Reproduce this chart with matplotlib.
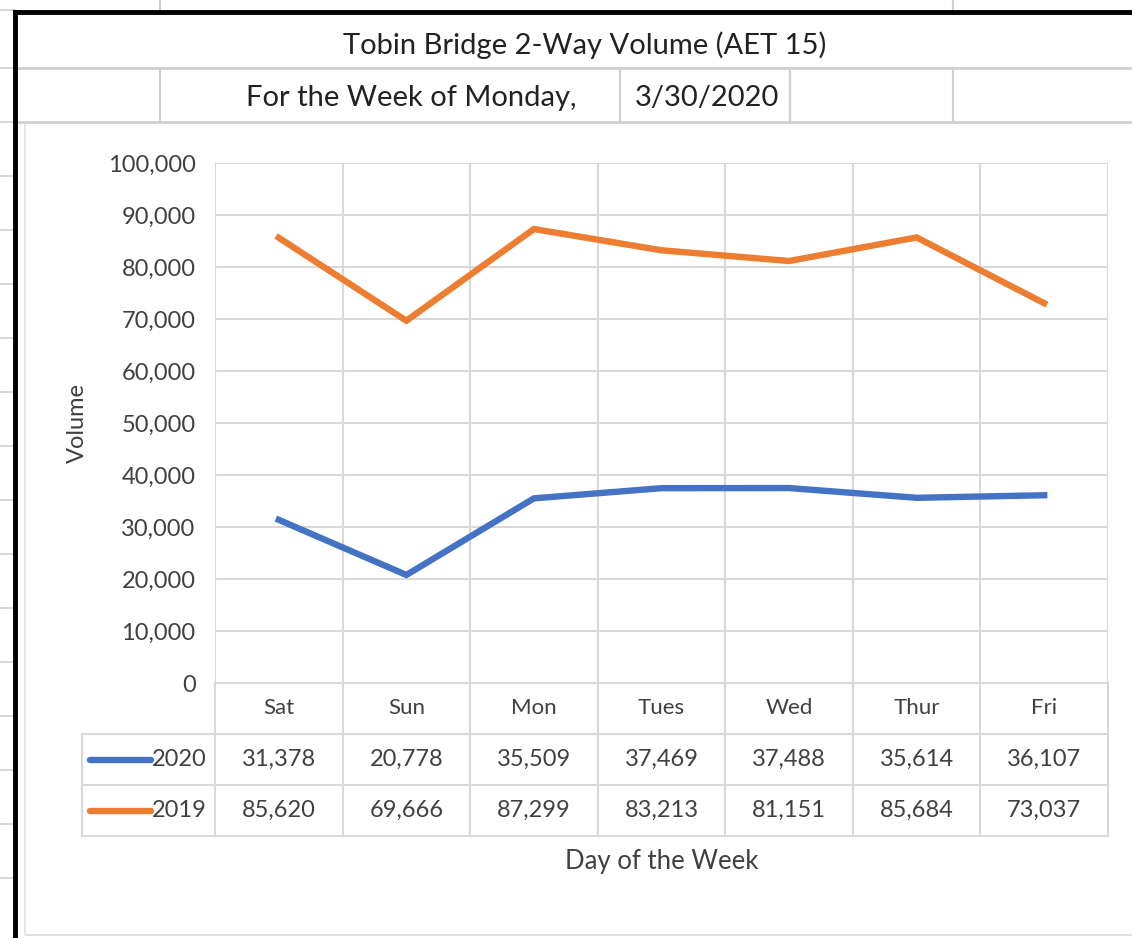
import matplotlib.pyplot as plt
from matplotlib.lines import Line2D

plt.rcParams['font.family'] = ['Lato', 'DejaVu Sans']

days = ["Sat", "Sun", "Mon", "Tues", "Wed", "Thur", "Fri"]
vol_2020 = [31378, 20778, 35509, 37469, 37488, 35614, 36107]
vol_2019 = [85620, 69666, 87299, 83213, 81151, 85684, 73037]
series_names = ["2020", "2019"]
yticks = [0, 10000, 20000, 30000, 40000, 50000, 60000, 70000, 80000, 90000, 100000]

title = "Tobin Bridge 2-Way Volume (AET 15)"
subtitle = "For the Week of Monday,"
week_date = "3/30/2020"

W, H = 1132, 938
txt = "#404040"
grid = "#d9d9d9"
sheet = "#d0d0d0"
blue = "#4472C4"
orange = "#ED7D31"

fig = plt.figure(figsize=(W / 100, H / 100), dpi=100)


def fx(x):
    return x / W


def fy(y):
    return 1 - y / H


def fig_line(x0, y0, x1, y1, color=sheet, lw=1.5):
    fig.add_artist(Line2D([fx(x0), fx(x1)], [fy(y0), fy(y1)], color=color, lw=lw,
                          transform=fig.transFigure))


# spreadsheet cell lines around the chart
for yy in [68, 122]:
    fig_line(15, yy, W, yy, lw=2)
for xx in [160, 953]:
    fig_line(xx, 68, xx, 122)
    fig_line(xx, 0, xx, 12)
for xx in [620, 790]:
    fig_line(xx, 68, xx, 122)
for yy in [10, 68, 122, 176, 230, 284, 338, 392, 446, 500, 554, 608, 662, 716, 770, 824, 878]:
    fig_line(0, yy, 15, yy, lw=1.2)
fig_line(25, 935, W, 935, color="#e0e0e0")
fig_line(25, 125, 25, 935, color="#e6e6e6")

# thick black border
fig_line(15, 12, W, 12, color="black", lw=3.5)
fig_line(15, 12, 15, H, color="black", lw=3.5)

fig.text(fx(585), fy(45), title, ha="center", va="center", fontsize=21, color="#222222")
fig.text(fx(411), fy(98), subtitle, ha="center", va="center", fontsize=21, color="#222222")
fig.text(fx(707), fy(98), week_date, ha="center", va="center", fontsize=21, color="#222222")

ax = fig.add_axes([fx(215), fy(683), (1108 - 215) / W, 520 / H])
x = list(range(len(days)))
ax.plot(x, vol_2020, color=blue, lw=4.6, solid_joinstyle="miter", zorder=3)
ax.plot(x, vol_2019, color=orange, lw=4.6, solid_joinstyle="miter", zorder=3)

ax.set_xlim(-0.5, len(days) - 0.5)
ax.set_ylim(0, 100000)
ax.set_yticks(yticks)
ax.set_yticklabels([f"{v:,}" for v in yticks], fontsize=17, color=txt)
ax.set_xticks([])
ax.tick_params(axis="y", length=0, pad=14)
ax.yaxis.grid(True, color=grid, lw=1.5)
for b in range(len(days) + 1):
    ax.axvline(b - 0.5, color=grid, lw=1.5, zorder=1)
for s in ax.spines.values():
    s.set_visible(False)
ax.set_ylabel("Volume", fontsize=17, color=txt, labelpad=14)

# data table under the plot
row_h = 51 / 520
band = 893 / 7
tr = ax.get_xaxis_transform()
left_x = -0.5 - (215 - 82) / band
for i, d in enumerate(days):
    ax.text(i, -row_h / 2, d, transform=tr, ha="center", va="center", fontsize=16, color=txt)
    ax.text(i, -1.5 * row_h, f"{vol_2020[i]:,}", transform=tr, ha="center", va="center",
            fontsize=17, color=txt)
    ax.text(i, -2.5 * row_h, f"{vol_2019[i]:,}", transform=tr, ha="center", va="center",
            fontsize=17, color=txt)
for b in range(len(days) + 1):
    ax.plot([b - 0.5, b - 0.5], [0, -3 * row_h], transform=tr, color=grid, lw=1.5, clip_on=False)
ax.plot([left_x, left_x], [-row_h, -3 * row_h], transform=tr, color=grid, lw=1.5, clip_on=False)
for k in [1, 2, 3]:
    ax.plot([left_x, 6.5], [-k * row_h, -k * row_h], transform=tr, color=grid, lw=1.5, clip_on=False)
ax.plot([-0.5, 6.5], [0, 0], transform=tr, color=grid, lw=1.5, clip_on=False)

sw0 = -0.5 - (215 - 90) / band
sw1 = -0.5 - (215 - 151) / band
for k, (name, col) in enumerate(zip(series_names, [blue, orange])):
    yy = -(k + 1.5) * row_h
    ax.plot([sw0, sw1], [yy, yy], transform=tr, color=col,
            lw=4.6, clip_on=False, solid_capstyle="round")
    ax.text(-0.5 - 8 / band, yy, name, transform=tr, ha="right", va="center", fontsize=17, color=txt)

ax.text(0.5, -3 * row_h - 25 / 520, "Day of the Week", transform=ax.transAxes, ha="center",
        va="center", fontsize=18.5, color=txt)

fig.savefig("out.png", dpi=100)
